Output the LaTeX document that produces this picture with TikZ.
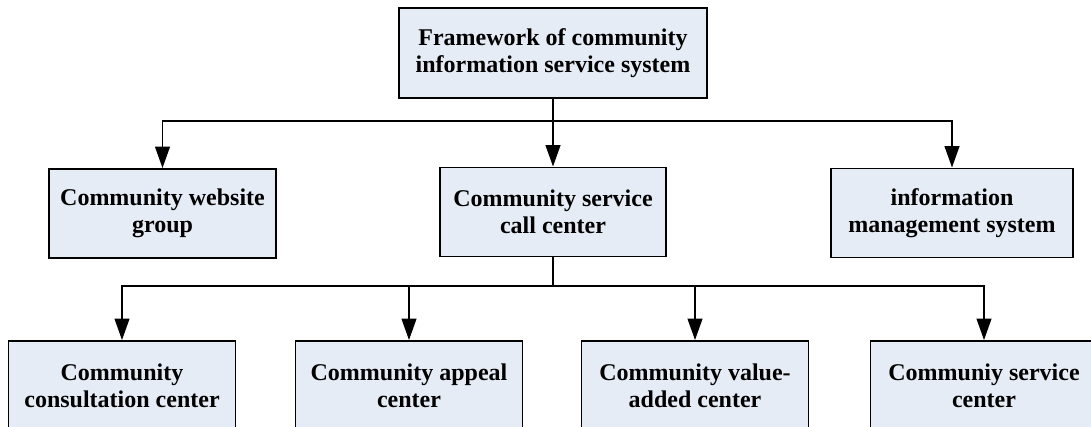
\documentclass[tikz,border=0pt]{standalone}
\usepackage{fontspec}
\setmainfont{Liberation Serif}
\usetikzlibrary{arrows.meta,positioning}
\definecolor{boxfill}{HTML}{E6ECF6}

\begin{document}
\begin{tikzpicture}[x=0.75pt,y=-0.75pt]
      \tikzstyle{every node} = [draw, line width=1.4pt, fill=boxfill, align=center,
        font=\fontsize{18}{20}\selectfont\bfseries, inner sep=2pt]
      \tikzstyle{arr} = [line width=1.4pt, -{Triangle[length=16pt,width=11pt]}]
      \clip (0,0) rectangle (1091,427);
      % root
      \node[minimum width=308*0.75pt, minimum height=90*0.75pt] (top) at (553,53)
        {Framework of community\\information service system};
      % second level
      \begin{scope}[every node/.append style={minimum height=89*0.75pt}]
        \node[minimum width=227*0.75pt] (web) at (162.5,213.5) {Community website\\group};
        \node[minimum width=226*0.75pt] (call) at (553,212) {Community service\\call center};
        \node[minimum width=242*0.75pt] (info) at (952,213) {information\\management system};
      \end{scope}
      % third level
      \begin{scope}[every node/.append style={minimum width=227*0.75pt, minimum height=90*0.75pt}]
        \node (cons) at (122,386) {Community\\consultation center};
        \node (appeal) at (409,386) {Community appeal\\center};
        \node (value) at (695,386) {Community value-\\added center};
        \node (serv) at (984,386) {Communiy service\\center};
      \end{scope}
      \coordinate (bus1) at (553,121);
      \coordinate (bus2) at (553,286);
      \draw[arr] (top) -- (call);
      \draw[arr] (bus1) -| (web);
      \draw[arr] (bus1) -| (info);
      \draw[line width=1.4pt] (call) -- (bus2);
      \draw[arr] (bus2) -| (cons);
      \draw[arr] (bus2) -| (appeal);
      \draw[arr] (bus2) -| (value);
      \draw[arr] (bus2) -| (serv);
    \end{tikzpicture}
\end{document}
